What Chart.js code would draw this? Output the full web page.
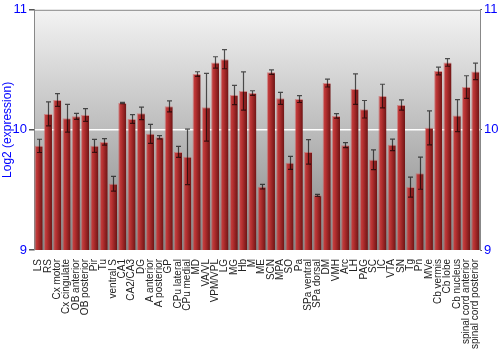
<!DOCTYPE html>
<html><head><meta charset="utf-8">
<script src="https://cdn.jsdelivr.net/npm/chart.js@4"></script>
<style>html,body{margin:0;padding:0;background:#fff}#w{width:500px;height:350px}</style>
</head><body><div id="w"><canvas id="c"></canvas></div>
<script>
const categories = ["LS","RS","Cx motor","Cx cingulate","OB anterior","OB posterior","Pir","Tu","ventral S","CA1","CA2/CA3","DG","A anterior","A posterior","GP","CPu lateral","CPu medial","MD","VA/VL","VPM/VPL","LG","MG","Hb","M","ME","SCN","MPA","SO","Pa","SPa ventral","SPa dorsal","DM","VMH","Arc","LH","PAG","SC","IC","VTA","SN","Tg","Pn","MVe","Cb vermis","Cb lobe","Cb nucleus","spinal cord anterior","spinal cord posterior"];
const values = [9.867,10.133,10.249,10.097,10.113,10.124,9.867,9.90,9.552,10.224,10.091,10.138,9.967,9.939,10.196,9.817,9.776,10.465,10.188,10.562,10.589,10.29,10.324,10.307,9.527,10.481,10.263,9.726,10.257,9.817,9.455,10.39,10.116,9.873,10.34,10.172,9.751,10.282,9.876,10.207,9.524,9.64,10.017,10.49,10.562,10.119,10.357,10.487];
const errors = [0.055,0.10,0.053,0.115,0.025,0.053,0.054,0.027,0.061,0.005,0.036,0.052,0.079,0.014,0.046,0.046,0.231,0.019,0.282,0.047,0.080,0.080,0.159,0.019,0.019,0.019,0.050,0.054,0.029,0.102,0.008,0.033,0.019,0.021,0.127,0.073,0.082,0.098,0.048,0.043,0.083,0.134,0.141,0.032,0.032,0.133,0.094,0.069];
const yTicks = [9,10,11];

const bgPlugin = {
  id:'bg',
  beforeDraw(chart){
    const {ctx, chartArea:a} = chart;
    const g = ctx.createLinearGradient(0,a.top,0,a.bottom);
    g.addColorStop(0,'#f3f3f3');
    g.addColorStop(1,'#858585');
    ctx.save(); ctx.fillStyle=g; ctx.fillRect(a.left,a.top,a.right-a.left,a.bottom-a.top); ctx.restore();
  },
  afterDraw(chart){
    const a=chart.chartArea;const c=chart.ctx;
    c.save();c.strokeStyle='#888';c.lineWidth=1;c.beginPath();
    c.moveTo(a.left,a.top+0.5);c.lineTo(a.right,a.top+0.5);c.stroke();c.restore();
  }
};
const errPlugin = {
  id:'err',
  afterDatasetsDraw(chart){
    const {ctx} = chart; const y = chart.scales.y;
    const meta = chart.getDatasetMeta(0);
    ctx.save();
    ctx.strokeStyle='rgba(0,0,0,0.65)'; ctx.lineWidth=1.2;
    meta.data.forEach((bar,i)=>{
      const x = Math.round(bar.x)+0.5;
      const t = y.getPixelForValue(values[i]+errors[i]);
      const b = y.getPixelForValue(values[i]-errors[i]);
      ctx.beginPath();
      ctx.moveTo(x,t); ctx.lineTo(x,b);
      ctx.moveTo(x-2.5,t); ctx.lineTo(x+2.5,t);
      ctx.moveTo(x-2.5,b); ctx.lineTo(x+2.5,b);
      ctx.stroke();
    });
    ctx.restore();
  }
};
function barColor(ctx){
  const chart = ctx.chart; const a = chart.chartArea;
  if(!a || ctx.dataIndex===undefined) return '#a02828';
  const xs = chart.scales.x; const x = xs.getPixelForValue(ctx.dataIndex);
  const w = 8;
  const g = chart.ctx.createLinearGradient(x-w/2,0,x+w/2,0);
  g.addColorStop(0,'#c84848'); g.addColorStop(0.35,'#b83232'); g.addColorStop(1,'#6e1414');
  return g;
}
new Chart(document.getElementById('c'),{
  type:'bar',
  data:{labels:categories,datasets:[{data:values,backgroundColor:barColor,borderColor:'rgba(205,95,95,0.6)',borderWidth:{left:1,right:0,top:1,bottom:0},categoryPercentage:1,barPercentage:0.87}]},
  plugins:[bgPlugin,errPlugin],
  options:{
    responsive:true,maintainAspectRatio:false,animation:false,
    layout:{padding:{top:9,left:0,right:0,bottom:0}},
    plugins:{legend:{display:false},tooltip:{enabled:false}},
    scales:{
      x:{
        grid:{display:false},border:{display:false},
        ticks:{autoSkip:false,maxRotation:90,minRotation:90,color:'#222',padding:1,font:{family:'Liberation Sans',size:10}},
        afterFit(s){s.height=100;}
      },
      y:{
        min:9,max:11,position:'left',
        afterBuildTicks(s){s.ticks=yTicks.map(v=>({value:v}));},
        grid:{color:c=>c.tick&&c.tick.value===10?'#ffffff':'rgba(0,0,0,0)',lineWidth:1.5,tickLength:5,tickColor:'#555',drawTicks:true},
        border:{display:true,color:'#888',width:1},
        ticks:{color:'#0000ff',padding:2,font:{family:'Liberation Sans',size:13}},
        title:{display:true,text:'Log2 (expression)',color:'#0000ff',padding:{top:0,bottom:2},font:{family:'Liberation Sans',size:12}},
        afterFit(s){s.width=34;}
      },
      y2:{
        min:9,max:11,position:'right',
        afterBuildTicks(s){s.ticks=yTicks.map(v=>({value:v}));},
        grid:{display:true,drawOnChartArea:false,tickLength:2,tickColor:'#555'},
        border:{display:true,color:'#888',width:1},
        ticks:{color:'#0000ff',padding:2,font:{family:'Liberation Sans',size:13}},
        afterFit(s){s.width=20;}
      }
    }
  }
});
</script></body></html>
